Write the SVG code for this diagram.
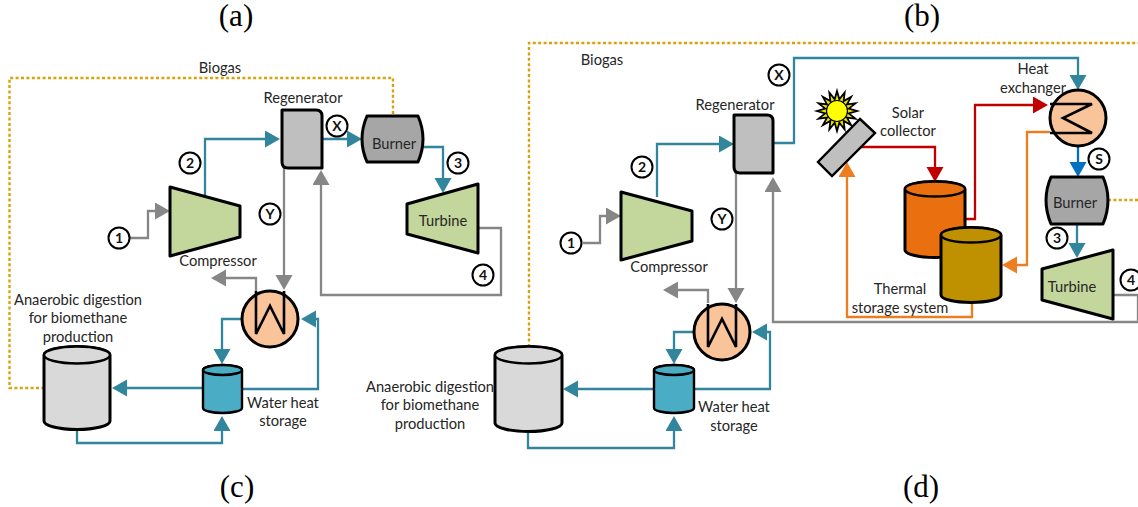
<svg xmlns="http://www.w3.org/2000/svg" width="1138" height="507" viewBox="0 0 1138 507">
<style>
text{font-family:Lato,"Liberation Sans",sans-serif;font-size:14.7px;fill:#262626;text-anchor:middle}
text.p{font-family:"Liberation Serif",serif;font-size:31px;fill:#000}
text.n{font-weight:700;font-size:14px;fill:#111}
.s{stroke:#000;stroke-width:3;stroke-linejoin:round}
.t{stroke:#000;stroke-width:2.4}
circle.l{fill:#fff;stroke:#000;stroke-width:2}
.c{fill:none;stroke-width:2.3;stroke-linejoin:miter}
.teal{stroke:#31859C;marker-end:url(#aT)}
.gray{stroke:#868686;marker-end:url(#aG)}
.red{stroke:#C00000;marker-end:url(#aR)}
.or{stroke:#ED7D1F;marker-end:url(#aO)}
.blue{stroke:#0070C0;marker-end:url(#aB)}
.bio{stroke:#D9A20C;stroke-width:2.4;stroke-dasharray:3 2.4}
.comp{fill:#C3D69B}.reg{fill:#BFBFBF}.burn{fill:#A6A6A6}.hx{fill:#F9C499}.wat{fill:#4BACC6}.dig{fill:#D9D9D9}
.coil{fill:none;stroke:#000;stroke-width:2.6}
</style>
<defs>
<marker id="aT" markerUnits="userSpaceOnUse" markerWidth="16" markerHeight="18" refX="11" refY="8.5" orient="auto"><path d="M0,0L15,8.5L0,17z" fill="#31859C"/></marker>
<marker id="aG" markerUnits="userSpaceOnUse" markerWidth="16" markerHeight="18" refX="11" refY="8.5" orient="auto"><path d="M0,0L15,8.5L0,17z" fill="#868686"/></marker>
<marker id="aR" markerUnits="userSpaceOnUse" markerWidth="16" markerHeight="18" refX="11" refY="8.5" orient="auto"><path d="M0,0L15,8.5L0,17z" fill="#C00000"/></marker>
<marker id="aO" markerUnits="userSpaceOnUse" markerWidth="16" markerHeight="18" refX="11" refY="8.5" orient="auto"><path d="M0,0L15,8.5L0,17z" fill="#ED7D1F"/></marker>
<marker id="aB" markerUnits="userSpaceOnUse" markerWidth="16" markerHeight="18" refX="11" refY="8.5" orient="auto"><path d="M0,0L15,8.5L0,17z" fill="#0070C0"/></marker>
</defs>
<g id="panel-labels">
<text class="p" x="236" y="26">(a)</text>
<text class="p" x="922" y="26">(b)</text>
<text class="p" x="237" y="497">(c)</text>
<text class="p" x="921" y="497">(d)</text>
</g>
<g id="texts-under">
<text x="220" y="73">Biogas</text>
<text x="602" y="65">Biogas</text>
<text x="430" y="392">Anaerobic digestion</text>
<text x="430" y="410">for biomethane</text>
<text x="430" y="429">production</text>
</g>
<g id="connectors">
<path class="c bio" d="M393,114V78H9.500V388H44"/>
<path class="c bio" d="M529,347V43H1138"/>
<path class="c bio" d="M1108,200H1138"/>
<path class="c gray" d="M130,238H148V211H166"/>
<path class="c teal" d="M205,196V139H276"/>
<path class="c teal" d="M322,139H358"/>
<path class="c teal" d="M422,147H443V189"/>
<path class="c gray" d="M478,228H501V295H321V174"/>
<path class="c gray" d="M284,168V286"/>
<path class="c gray" d="M256,291V278H215"/>
<path class="c teal" d="M242,319H222V360"/>
<path class="c teal" d="M242,389H318V319H305"/>
<path class="c teal" d="M203,388H116"/>
<path class="c teal" d="M77,429V443H222V420"/>
<path class="c gray" d="M583,243H600V216H617"/>
<path class="c teal" d="M657,197V144H730"/>
<path class="c teal" d="M773,143H794V58H1078V86"/>
<path class="c gray" d="M736,173V299"/>
<path class="c gray" d="M708,303V290H667"/>
<path class="c gray" d="M1113,295H1138V322H773V181"/>
<path class="c teal" d="M693,332H674V360"/>
<path class="c teal" d="M694,389H770V332H756"/>
<path class="c teal" d="M654,389H567"/>
<path class="c teal" d="M528,431V448H674V420"/>
<path class="c red" d="M860,147H935V178"/>
<path class="c red" d="M965,219H975V105H1044"/>
<path class="c or" d="M1050,132H1027V265H1006"/>
<path class="c or" d="M972,302V317H847V166"/>
<path class="c blue" d="M1078,147V173"/>
<path class="c teal" d="M1077,224V254"/>
</g>
<g id="compressor-a"><path class="s comp" d="M170,187L240,206V237L170,256z"/><text x="218" y="266">Compressor</text></g>
<g id="regenerator-a"><path class="s reg" d="M282,110H316Q322,110 322,116V168H288Q282,168 282,162z"/><text x="303" y="103">Regenerator</text></g>
<g id="burner-a"><path class="s burn" d="M367,116H418Q428,139 418,162H367Q357,139 367,116z"/><text x="394" y="149">Burner</text></g>
<g id="turbine-a"><path class="s comp" d="M407,204L478,184V253L407,234z"/><text x="443" y="226">Turbine</text></g>
<g id="hx-a"><circle class="s hx" cx="270" cy="319" r="28"/><path class="coil" d="M256,291V334L270,306L284,334V291"/></g>
<g id="water-a"><path class="t wat" d="M203,370V408A19.5,5 0 0 0 242,408V370A19.5,5 0 0 0 203,370z"/><ellipse class="t wat" cx="222.500" cy="370" rx="19.500" ry="5"/><text x="283" y="408">Water heat</text><text x="283" y="426">storage</text></g>
<g id="digester-a"><path class="s dig" d="M44,355V421A33,8.500 0 0 0 110,421V355A33,8.500 0 0 0 44,355z"/><ellipse class="t dig" cx="77" cy="355" rx="33" ry="8.500"/><text x="78" y="305">Anaerobic digestion</text><text x="78" y="323">for biomethane</text><text x="78" y="342">production</text></g>
<g id="label-nums-a">
<circle class="l" cx="119" cy="238" r="10.500"/><text class="n" x="119" y="243">1</text>
<circle class="l" cx="190" cy="163" r="10.500"/><text class="n" x="190" y="168">2</text>
<circle class="l" cx="458" cy="163" r="10.500"/><text class="n" x="458" y="168">3</text>
<circle class="l" cx="483" cy="275" r="10.500"/><text class="n" x="483" y="280">4</text>
<circle class="l" cx="337" cy="126" r="10.500"/><text class="n" x="337" y="131">X</text>
<circle class="l" cx="270" cy="214" r="10.500"/><text class="n" x="270" y="219">Y</text>
</g>
<g id="compressor-b"><path class="s comp" d="M621,192L692,211V241L621,260z"/><text x="669" y="272">Compressor</text></g>
<g id="regenerator-b"><path class="s reg" d="M734,115H767Q773,115 773,121V173H740Q734,173 734,167z"/><text x="735" y="110">Regenerator</text></g>
<g id="hx-d"><circle class="s hx" cx="722" cy="332" r="28"/><path class="coil" d="M708,304V347L722,319L736,347V304"/></g>
<g id="water-d"><path class="t wat" d="M654,370V408A20,5 0 0 0 694,408V370A20,5 0 0 0 654,370z"/><ellipse class="t wat" cx="674" cy="370" rx="20" ry="5"/><text x="734" y="412">Water heat</text><text x="734" y="431">storage</text></g>
<g id="digester-d"><path class="s dig" d="M495,355V423A33.500,8.500 0 0 0 562,423V355A33.500,8.500 0 0 0 495,355z"/><ellipse class="t dig" cx="528.500" cy="355" rx="33.500" ry="8.500"/></g>
<g id="sun" transform="translate(837 111)"><path d="M0,-20L2.34,-11.77L7.65,-18.48L6.67,-9.98L14.14,-14.14L9.98,-6.67L18.48,-7.65L11.77,-2.34L20,0L11.77,2.34L18.48,7.65L9.98,6.67L14.14,14.14L6.67,9.98L7.65,18.48L2.34,11.77L0,20L-2.34,11.77L-7.65,18.48L-6.67,9.98L-14.14,14.14L-9.98,6.67L-18.48,7.65L-11.77,2.34L-20,0L-11.77,-2.34L-18.48,-7.65L-9.98,-6.67L-14.14,-14.14L-6.67,-9.98L-7.65,-18.48L-2.34,-11.77z" fill="#E6E600" stroke="#000" stroke-width="1.800"/><circle r="10.500" fill="#FFFF00" stroke="#000" stroke-width="1.200"/></g>
<g id="solar-collector"><path class="t reg" d="M860,119L875,133L832,176L818,162z"/><text x="908" y="118">Solar</text><text x="908" y="136">collector</text></g>
<g id="hot-tank"><path class="s" fill="#EA700F" d="M905,189V250A30,7.500 0 0 0 965,250V189A30,7.500 0 0 0 905,189z"/><ellipse class="t" fill="#EA700F" cx="935" cy="189" rx="30" ry="7.500"/></g>
<g id="cold-tank"><path class="s" fill="#BF9000" d="M941,235V295A30,7.500 0 0 0 1001,295V235A30,7.500 0 0 0 941,235z"/><ellipse class="t" fill="#BF9000" cx="971" cy="235" rx="30" ry="7.500"/><text x="900" y="294">Thermal</text><text x="900" y="313">storage system</text></g>
<g id="heat-exchanger"><circle class="s hx" cx="1078" cy="118" r="28"/><path class="coil" d="M1050,104H1092L1063,118L1092,133H1050"/><text x="1033" y="74">Heat</text><text x="1033" y="93">exchanger</text></g>
<g id="burner-b"><path class="s burn" d="M1051,177H1103Q1113,200 1103,224H1051Q1041,200 1051,177z"/><text x="1075" y="208">Burner</text></g>
<g id="turbine-b"><path class="s comp" d="M1042,269L1113,250V319L1042,300z"/><text x="1072" y="292">Turbine</text></g>
<g id="label-nums-b">
<circle class="l" cx="571" cy="243" r="10.500"/><text class="n" x="571" y="248">1</text>
<circle class="l" cx="642" cy="167" r="10.500"/><text class="n" x="642" y="172">2</text>
<circle class="l" cx="1057" cy="238" r="10.500"/><text class="n" x="1057" y="243">3</text>
<circle class="l" cx="1131" cy="280" r="10.500"/><text class="n" x="1131" y="285">4</text>
<circle class="l" cx="779" cy="75" r="10.500"/><text class="n" x="779" y="80">X</text>
<circle class="l" cx="722" cy="219" r="10.500"/><text class="n" x="722" y="224">Y</text>
<circle class="l" cx="1099" cy="159" r="10.500"/><text class="n" x="1099" y="164">S</text>
</g>
</svg>
